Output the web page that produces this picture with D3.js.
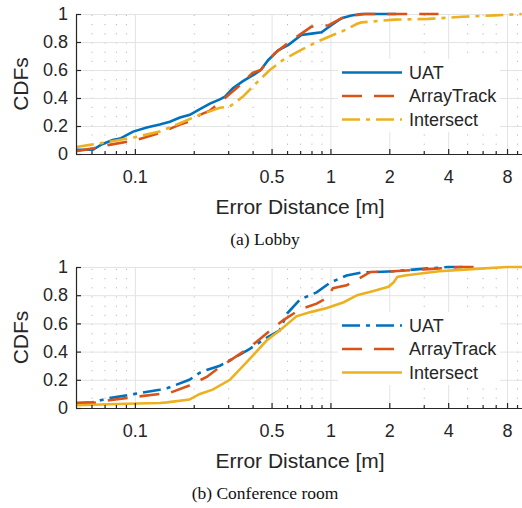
<!DOCTYPE html>
<html>
<head>
<meta charset="utf-8">
<script src="https://cdn.jsdelivr.net/npm/d3@7"></script>
<style>
  body { margin: 0; background: #fff; }
  svg { display: block; font-family: "Liberation Sans", Arial, sans-serif; }
</style>
</head>
<body>
<div id="chart"></div>
<script>
// tick values
const majorTicks = [0.1, 0.5, 1, 2, 4, 8];
const minorTicks = [0.06, 0.07, 0.08, 0.09, 0.2, 0.3, 0.4, 0.6, 0.7, 0.8, 0.9, 3, 5, 6, 7, 9];
const yTicks = [0, 0.2, 0.4, 0.6, 0.8, 1];
const seriesNames = ['UAT', 'ArrayTrack', 'Intersect'];

// (a) Lobby
const lobbyUatErr = [0.05, 0.061, 0.068, 0.077, 0.084, 0.098, 0.115, 0.134, 0.151, 0.17, 0.191, 0.215, 0.242, 0.272, 0.289, 0.317, 0.357, 0.41, 0.44, 0.48, 0.54, 0.61, 0.71, 0.8, 0.9, 1.01, 1.14, 1.28, 1.44, 2.17];
const lobbyUatCdf = [0.03, 0.03, 0.07, 0.10, 0.11, 0.16, 0.19, 0.21, 0.23, 0.26, 0.28, 0.32, 0.36, 0.39, 0.41, 0.47, 0.52, 0.57, 0.60, 0.67, 0.74, 0.78, 0.85, 0.86, 0.87, 0.92, 0.97, 0.99, 1.0, 1.0];
const lobbyArrErr = [0.05, 0.061, 0.074, 0.102, 0.134, 0.17, 0.198, 0.215, 0.242, 0.295, 0.344, 0.4, 0.44, 0.52, 0.63, 0.71, 0.8, 0.98, 1.14, 1.33, 1.5, 3.57];
const lobbyArrCdf = [0.02, 0.04, 0.065, 0.10, 0.15, 0.21, 0.24, 0.28, 0.31, 0.41, 0.49, 0.58, 0.60, 0.72, 0.81, 0.86, 0.91, 0.92, 0.97, 0.99, 1.0, 1.0];
const lobbyIntErr = [0.05, 0.059, 0.069, 0.1, 0.134, 0.17, 0.215, 0.272, 0.306, 0.357, 0.42, 0.49, 0.57, 0.7, 0.85, 1.03, 1.21, 1.37, 1.44, 2.12, 3.17, 4.7, 6.9, 9.5];
const lobbyIntCdf = [0.05, 0.065, 0.08, 0.12, 0.16, 0.22, 0.28, 0.33, 0.34, 0.41, 0.51, 0.60, 0.67, 0.74, 0.80, 0.85, 0.89, 0.93, 0.94, 0.96, 0.965, 0.98, 0.99, 1.0];

// (b) Conference room
const confUatErr = [0.05, 0.061, 0.074, 0.1, 0.134, 0.146, 0.19, 0.215, 0.233, 0.272, 0.317, 0.387, 0.473, 0.55, 0.6, 0.7, 0.85, 1.0, 1.21, 1.44, 2.12, 3.17, 4.0, 4.8];
const confUatCdf = [0.035, 0.04, 0.07, 0.10, 0.13, 0.14, 0.20, 0.25, 0.27, 0.30, 0.35, 0.42, 0.50, 0.55, 0.67, 0.77, 0.82, 0.89, 0.94, 0.96, 0.97, 0.99, 1.0, 1.0];
const confArrErr = [0.05, 0.061, 0.074, 0.102, 0.134, 0.146, 0.19, 0.233, 0.272, 0.317, 0.387, 0.473, 0.57, 0.7, 0.85, 0.96, 1.03, 1.21, 1.37, 1.6, 2.1, 3.2, 4.7, 5.4];
const confArrCdf = [0.035, 0.035, 0.055, 0.08, 0.10, 0.10, 0.16, 0.22, 0.29, 0.35, 0.43, 0.53, 0.62, 0.70, 0.74, 0.78, 0.85, 0.87, 0.91, 0.965, 0.97, 0.985, 1.0, 1.0];
const confIntErr = [0.05, 0.091, 0.134, 0.146, 0.19, 0.215, 0.25, 0.306, 0.37, 0.473, 0.55, 0.67, 0.79, 0.96, 1.17, 1.37, 1.66, 1.98, 2.1, 2.2, 2.4, 3.6, 5.3, 8.0, 10];
const confIntCdf = [0.02, 0.03, 0.035, 0.04, 0.06, 0.10, 0.13, 0.20, 0.32, 0.48, 0.55, 0.65, 0.68, 0.71, 0.75, 0.80, 0.83, 0.86, 0.89, 0.93, 0.94, 0.97, 0.985, 1.0, 1.0];

const colors = {UAT: '#0072BD', ArrayTrack: '#D95319', Intersect: '#EDB120'};
const dashes = {solid: null, dashed: '20,12', dashdot: '18,6,4,6'};

let width = 522, height = 508;
let left = 76, right = 526;

let svg = d3.select('#chart')
  .append('svg')
  .attr('width', width)
  .attr('height', height);

let panels = [
  {
    top: 14, bottom: 154, caption: '(a) Lobby',
    series: [
      {name: 'UAT', err: lobbyUatErr, cdf: lobbyUatCdf, dash: 'solid'},
      {name: 'ArrayTrack', err: lobbyArrErr, cdf: lobbyArrCdf, dash: 'dashed'},
      {name: 'Intersect', err: lobbyIntErr, cdf: lobbyIntCdf, dash: 'dashdot'}
    ]
  },
  {
    top: 267, bottom: 408, caption: '(b) Conference room',
    series: [
      {name: 'UAT', err: confUatErr, cdf: confUatCdf, dash: 'dashdot'},
      {name: 'ArrayTrack', err: confArrErr, cdf: confArrCdf, dash: 'dashed'},
      {name: 'Intersect', err: confIntErr, cdf: confIntCdf, dash: 'solid'}
    ]
  }
];

panels.forEach((p, i) => drawPanel(p, i));

function drawPanel(p, i) {
  let x = d3.scaleLog().domain([0.05, 10]).range([left, right]);
  let y = d3.scaleLinear().domain([0, 1]).range([p.bottom, p.top]);
  let h = p.bottom - p.top;

  let g = svg.append('g');

  // minor grid (dotted)
  g.append('g')
    .attr('transform', 'translate(0,' + p.bottom + ')')
    .call(d3.axisBottom(x).tickValues(minorTicks).tickSize(-h).tickFormat(''))
    .call(a => a.select('.domain').remove())
    .selectAll('line')
    .attr('stroke', '#b8b8b8')
    .attr('stroke-width', 1)
    .attr('stroke-dasharray', '1.2,8');

  // major grid
  g.append('g')
    .attr('transform', 'translate(0,' + p.bottom + ')')
    .call(d3.axisBottom(x).tickValues(majorTicks).tickSize(-h).tickFormat(''))
    .call(a => a.select('.domain').remove())
    .selectAll('line')
    .attr('stroke', '#e3e3e3')
    .attr('stroke-width', 1);

  g.append('g')
    .attr('transform', 'translate(' + left + ',0)')
    .call(d3.axisLeft(y).tickValues(yTicks).tickSize(-(right - left)).tickFormat(''))
    .call(a => a.select('.domain').remove())
    .selectAll('line')
    .attr('stroke', '#e3e3e3')
    .attr('stroke-width', 1);

  // clip for lines
  let clipId = 'clip' + i;
  svg.append('clipPath').attr('id', clipId)
    .append('rect')
    .attr('x', left).attr('y', p.top - 3)
    .attr('width', right - left).attr('height', h + 3);

  let line = d3.line()
    .x(d => x(d[0]))
    .y(d => y(d[1]));

  g.append('g')
    .attr('clip-path', 'url(#' + clipId + ')')
    .selectAll('path')
    .data(p.series)
    .enter().append('path')
    .attr('d', s => line(d3.zip(s.err, s.cdf)))
    .attr('fill', 'none')
    .attr('stroke', s => colors[s.name])
    .attr('stroke-width', 2.6)
    .attr('stroke-dasharray', s => dashes[s.dash]);

  // axes
  let xAxis = g.append('g')
    .attr('transform', 'translate(0,' + p.bottom + ')')
    .call(d3.axisBottom(x).tickValues(majorTicks).tickSize(-5).tickSizeOuter(0).tickPadding(16)
      .tickFormat(d3.format('~g')));
  xAxis.selectAll('text')
    .attr('fill', '#262626')
    .style('font-size', '18px');

  g.append('g')
    .attr('transform', 'translate(0,' + p.bottom + ')')
    .call(d3.axisBottom(x).tickValues(minorTicks).tickSize(-3).tickFormat(''))
    .call(a => a.select('.domain').remove());

  let yAxis = g.append('g')
    .attr('transform', 'translate(' + left + ',0)')
    .call(d3.axisLeft(y).tickValues(yTicks).tickSize(-5).tickSizeOuter(0).tickPadding(8)
      .tickFormat(d3.format('~g')));
  yAxis.selectAll('text')
    .attr('fill', '#262626')
    .style('font-size', '18px');

  g.selectAll('.domain, .tick line').filter(function() {
    return d3.select(this).attr('stroke-dasharray') == null && d3.select(this).attr('stroke') === 'currentColor';
  }).attr('stroke', '#262626').attr('stroke-width', 1.2);
  g.selectAll('path.domain').attr('stroke', '#262626').attr('stroke-width', 1.2);

  // axis labels
  g.append('text')
    .attr('transform', 'translate(28,' + (p.top + h / 2) + ') rotate(-90)')
    .attr('text-anchor', 'middle')
    .attr('fill', '#262626')
    .style('font-size', '21px')
    .text('CDFs');

  g.append('text')
    .attr('x', 300)
    .attr('y', p.bottom + 59.5)
    .attr('text-anchor', 'middle')
    .attr('fill', '#262626')
    .style('font-size', '21px')
    .text('Error Distance [m]');

  g.append('text')
    .attr('x', 265)
    .attr('y', p.bottom + 91)
    .attr('text-anchor', 'middle')
    .attr('fill', '#111')
    .style('font-family', '"Liberation Serif", "DejaVu Serif", serif')
    .style('font-size', '17.5px')
    .text(p.caption);

  // legend
  let legend = g.append('g');
  legend.append('rect')
    .attr('x', 338).attr('y', p.top + 45)
    .attr('width', 162).attr('height', 73)
    .attr('fill', '#fff');

  let rows = legend.selectAll('g.row')
    .data(p.series)
    .enter().append('g')
    .classed('row', true)
    .attr('transform', (s, k) => 'translate(0,' + (p.top + 58.5 + k * 23.5) + ')');

  rows.append('line')
    .attr('x1', 342).attr('x2', 402)
    .attr('stroke', s => colors[s.name])
    .attr('stroke-width', 2.6)
    .attr('stroke-dasharray', s => dashes[s.dash]);

  rows.append('text')
    .attr('x', 409)
    .attr('dy', '0.36em')
    .attr('fill', '#262626')
    .style('font-size', '18px')
    .text(s => s.name);
}
</script>
</body>
</html>
